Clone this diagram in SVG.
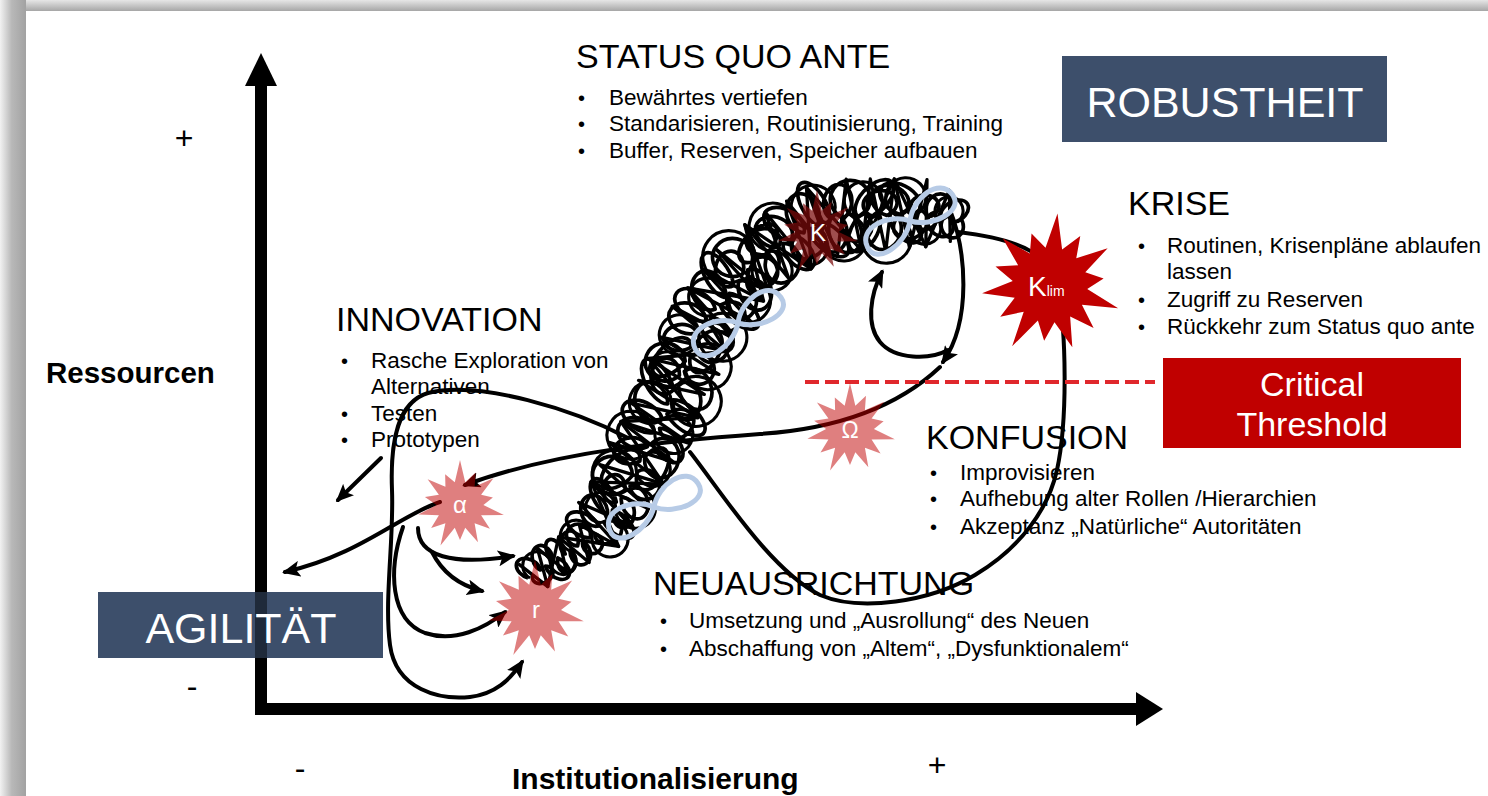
<svg xmlns="http://www.w3.org/2000/svg" width="1488" height="796" viewBox="0 0 1488 796">
<defs>
<linearGradient id="gl" x1="0" y1="0" x2="1" y2="0"><stop offset="0" stop-color="#f2f2f2"/><stop offset="0.45" stop-color="#b8b8b8"/><stop offset="1" stop-color="#a2a2a2"/></linearGradient>
<linearGradient id="gt" x1="0" y1="0" x2="0" y2="1"><stop offset="0" stop-color="#e6e6e6"/><stop offset="1" stop-color="#a6a6a6"/></linearGradient>
<marker id="ah" viewBox="0 0 18 16" refX="15" refY="8" markerWidth="18" markerHeight="16" markerUnits="userSpaceOnUse" orient="auto"><path d="M0,0 L18,8 L0,16 L4,8 Z" fill="#000"/></marker>
<path id="star" d="M0,-100 L11.6,-50.7 L34.7,-72.1 L32.4,-40.7 L74.3,-59.2 L46.9,-22.6 L73.1,-16.7 L52,0 L97.5,22.3 L46.9,22.6 L66.5,53 L32.4,40.7 L39.9,82.9 L11.6,50.7 L0,78 L-11.6,50.7 L-43.4,90.1 L-32.4,40.7 L-64.1,51.1 L-46.9,22.6 L-92.6,21.1 L-52,0 L-78,-17.8 L-46.9,-22.6 L-71.9,-57.4 L-32.4,-40.7 L-33,-68.5 L-11.6,-50.7 Z"/>
<path id="eight" d="M0,0 C14,-18 48,-22 50,0 C52,20 16,18 0,0 C-14,-18 -48,-22 -50,0 C-52,20 -16,18 0,0 Z"/>
<style>
.t{font-family:"Liberation Sans",Arial,sans-serif;fill:#000}
.h{font-size:34px}
.b{font-size:22.5px}
.d{font-size:20px}
.bold{font-weight:bold;font-size:30px}
.pm{font-size:32px;text-anchor:middle}
.w{fill:#fff}
.mid{text-anchor:middle}
.box{fill:#3d4f6b}
.ln{fill:none;stroke:#000;stroke-width:4;stroke-linecap:round;stroke-linejoin:round}
.arr{marker-end:url(#ah)}
.coil{fill:none;stroke:#000;stroke-width:3.7;stroke-linejoin:round}
.coil2{fill:none;stroke:#000;stroke-width:3.1;stroke-linejoin:round}
.zz{fill:none;stroke:#000;stroke-width:3.3;stroke-linejoin:round;stroke-linecap:round}
.inf{fill:none;stroke:#b7cbe6;stroke-width:5;stroke-linejoin:round}
.soft{fill:#c00000;opacity:.5}
</style>
</defs>

<g id="frame">
<rect width="1488" height="796" fill="#f4f4f4"/>
<rect x="0" y="0" width="1488" height="11" fill="url(#gt)"/>
<rect x="0" y="0" width="26" height="796" fill="url(#gl)"/>
<rect x="26" y="11" width="1462" height="785" fill="#fff"/>
</g>

<g id="axes">
<path d="M261,715 V82 M255,709 H1138" fill="none" stroke="#000" stroke-width="12"/>
<polygon points="245,86 261,53 277,86"/>
<polygon points="1136,692 1163,709 1136,726"/>
<text class="t pm" x="184" y="149">+</text>
<text class="t pm" x="192" y="697">-</text>
<text class="t pm" x="300" y="779">-</text>
<text class="t pm" x="937" y="776">+</text>
<text class="t bold" x="46" y="383" style="font-size:29.5px">Ressourcen</text>
<text class="t bold" x="512" y="789">Institutionalisierung</text>
</g>

<g id="status-quo-ante">
<text class="t h" x="576" y="68">STATUS QUO ANTE</text>
<text class="t d" x="578" y="105">•</text><text class="t b" x="609" y="105">Bewährtes vertiefen</text>
<text class="t d" x="578" y="131">•</text><text class="t b" x="609" y="131">Standarisieren, Routinisierung, Training</text>
<text class="t d" x="578" y="158">•</text><text class="t b" x="609" y="158">Buffer, Reserven, Speicher aufbauen</text>
</g>

<g id="krise">
<text class="t h" x="1128" y="215">KRISE</text>
<text class="t d" x="1138" y="253">•</text><text class="t b" x="1167" y="253">Routinen, Krisenpläne ablaufen</text>
<text class="t b" x="1167" y="279">lassen</text>
<text class="t d" x="1138" y="307">•</text><text class="t b" x="1167" y="307">Zugriff zu Reserven</text>
<text class="t d" x="1138" y="334">•</text><text class="t b" x="1167" y="334">Rückkehr zum Status quo ante</text>
</g>

<g id="innovation">
<text class="t h" x="336" y="331">INNOVATION</text>
<text class="t d" x="341" y="368">•</text><text class="t b" x="371" y="368">Rasche Exploration von</text>
<text class="t b" x="371" y="394">Alternativen</text>
<text class="t d" x="341" y="421">•</text><text class="t b" x="371" y="421">Testen</text>
<text class="t d" x="341" y="447">•</text><text class="t b" x="371" y="447">Prototypen</text>
</g>

<g id="konfusion">
<text class="t h" x="926" y="449">KONFUSION</text>
<text class="t d" x="930" y="480">•</text><text class="t b" x="960" y="480">Improvisieren</text>
<text class="t d" x="930" y="506">•</text><text class="t b" x="960" y="506">Aufhebung alter Rollen /Hierarchien</text>
<text class="t d" x="930" y="534">•</text><text class="t b" x="960" y="534">Akzeptanz „Natürliche“ Autoritäten</text>
</g>

<g id="neuausrichtung">
<text class="t h" x="653" y="595">NEUAUSRICHTUNG</text>
<text class="t d" x="660" y="628">•</text><text class="t b" x="689" y="628">Umsetzung und „Ausrollung“ des Neuen</text>
<text class="t d" x="660" y="656">•</text><text class="t b" x="689" y="656">Abschaffung von „Altem“, „Dysfunktionalem“</text>
</g>

<g id="connectors">
<path class="coil" d="M528,578
a13,9 30 1 1 12.4,-8 a10,13 -20 1 1 12.4,-8 a15,8 60 1 1 12.4,-8 a9,12 10 1 1 12.4,-8 a12,11 0 1 1 12.4,-8
a18,11 30 1 1 8.75,-12 a13,16 -20 1 1 8.75,-12 a20,10 60 1 1 8.75,-12 a11,14 10 1 1 8.75,-12
a20,19 0 1 1 7.4,-14.4 a24,13 -45 1 1 7.4,-14.4 a13,17 80 1 1 7.4,-14.4 a19,15 20 1 1 7.4,-14.4 a22,14 30 1 1 7.4,-14.4
a16,20 -20 1 1 5.8,-14.2 a25,12 60 1 1 5.8,-14.2 a14,18 10 1 1 5.8,-14.2 a20,19 0 1 1 5.8,-14.2 a24,13 -45 1 1 5.8,-14.2 a13,17 80 1 1 5.8,-14.2
a19,15 20 1 1 9.2,-11.8 a22,14 30 1 1 9.2,-11.8 a16,20 -20 1 1 9.2,-11.8 a25,12 60 1 1 9.2,-11.8 a14,18 10 1 1 9.2,-11.8 a20,19 0 1 1 9.2,-11.8
a24,13 -45 1 1 13,-7.3 a13,17 80 1 1 13,-7.3 a19,15 20 1 1 13,-7.3 a22,14 30 1 1 13,-7.3 a16,20 -20 1 1 13,-7.3 a25,12 60 1 1 13,-7.3
a14,18 10 1 1 14.2,-0.7 a20,19 0 1 1 14.2,-0.7 a24,13 -45 1 1 14.2,-0.7 a13,17 80 1 1 14.2,-0.7 a19,15 20 1 1 14.2,-0.7 a22,14 30 1 1 14.2,-0.7
a14,11 0 1 1 13.3,2.7 a12,14 40 1 1 13.3,2.7 a15,10 -30 1 1 13.3,2.7"/>
<path class="coil" d="M533,574
a11,8 -30 1 0 12.4,-8 a14,9 40 1 0 12.4,-8 a9,12 0 1 0 12.4,-8 a12,10 70 1 0 12.4,-8 a10,10 0 1 0 12.4,-8
a14,11 -30 1 0 8.75,-12 a19,10 40 1 0 8.75,-12 a11,15 0 1 0 8.75,-12 a17,13 70 1 0 8.75,-12
a15,15 0 1 0 7.4,-14.4 a23,13 -60 1 0 7.4,-14.4 a17,20 15 1 0 7.4,-14.4 a20,12 50 1 0 7.4,-14.4 a18,14 -30 1 0 7.4,-14.4
a24,12 40 1 0 5.8,-14.2 a14,19 0 1 0 5.8,-14.2 a21,16 70 1 0 5.8,-14.2 a15,15 0 1 0 5.8,-14.2 a23,13 -60 1 0 5.8,-14.2 a17,20 15 1 0 5.8,-14.2
a20,12 50 1 0 9.2,-11.8 a18,14 -30 1 0 9.2,-11.8 a24,12 40 1 0 9.2,-11.8 a14,19 0 1 0 9.2,-11.8 a21,16 70 1 0 9.2,-11.8 a15,15 0 1 0 9.2,-11.8
a23,13 -60 1 0 13,-7.3 a17,20 15 1 0 13,-7.3 a20,12 50 1 0 13,-7.3 a18,14 -30 1 0 13,-7.3 a24,12 40 1 0 13,-7.3 a14,19 0 1 0 13,-7.3
a21,16 70 1 0 14.2,-0.7 a15,15 0 1 0 14.2,-0.7 a23,13 -60 1 0 14.2,-0.7 a17,20 15 1 0 14.2,-0.7 a20,12 50 1 0 14.2,-0.7 a18,14 -30 1 0 14.2,-0.7
a12,10 0 1 0 13.3,2.7 a14,11 40 1 0 13.3,2.7 a11,12 -20 1 0 13.3,2.7"/>
<path class="coil2" d="M530,578
a14,14 0 1 1 20.7,-13.3 a13,13 0 1 0 20.7,-13.3 a16,16 0 1 1 20.7,-13.3
a18,18 0 1 0 11.7,-16 a15,15 0 1 1 11.7,-16 a20,20 0 1 0 11.7,-16
a22,22 0 1 1 9.25,-18 a17,17 0 1 0 9.25,-18 a24,24 0 1 1 9.25,-18 a19,19 0 1 0 9.25,-18
a21,21 0 1 1 7,-17 a25,25 0 1 0 7,-17 a18,18 0 1 1 7,-17 a23,23 0 1 0 7,-17 a20,20 0 1 1 7,-17
a24,24 0 1 0 13.75,-17.75 a19,19 0 1 1 13.75,-17.75 a22,22 0 1 0 13.75,-17.75 a26,26 0 1 1 13.75,-17.75
a20,20 0 1 0 19.5,-11 a24,24 0 1 1 19.5,-11 a18,18 0 1 0 19.5,-11 a22,22 0 1 1 19.5,-11
a23,23 0 1 0 21.25,-1 a19,19 0 1 1 21.25,-1 a25,25 0 1 0 21.25,-1 a20,20 0 1 1 21.25,-1
a16,16 0 1 0 20,4 a14,14 0 1 1 20,4"/>
<path class="zz" d="M519.4,564.6 L547.8,586.6 L537.4,548.2 L566.3,571.2 L558.6,537 L589.2,562.4 L579.3,524.8 L618.6,546.4 L578.7,502.5 L629.5,524.7 L591.2,481.8 L648.5,508.7 L599.8,464.7 L663.9,484.2 L609,442.4 L673.2,461.9 L620.9,421.5 L689.4,443.4 L631.3,403.2 L697.8,417.7 L638.6,380.3 L704.3,394.3 L648.6,358.5 L718.9,374.4 L659.7,336.9 L726.3,351.4 L672.2,306.3 L733.3,338.4 L687.7,287.9 L751.2,321.8 L703.1,269.5 L763.5,301 L716.2,249.3 L768.7,291.6 L744.8,224.7 L788.6,278.1 L765.2,212.1 L811,268.9 L786.6,201.1 L830.9,255.3 L806.5,187.7 L837.7,253.7 L846.2,179.2 L861.6,250.6 L870.3,179 L885.7,251.5 L894.3,178.9 L909.5,247.3 L927,179.7 L925.8,246.7 L949.3,190.3 L950.3,241.4"/>
<path class="zz" d="M547.8,586.6 L558.6,537 L618.6,546.4 L591.2,481.8 L663.9,484.2 L620.9,421.5 L697.8,417.7 L648.6,358.5 L726.3,351.4 L687.7,287.9 L763.5,301 L744.8,224.7 L811,268.9 L806.5,187.7 L861.6,250.6 L894.3,178.9 L925.8,246.7"/>
<path class="ln" d="M690,452 C720,490 770,570 820,595 C860,612 930,602 975,575 C1020,548 1048,510 1057,470 C1068,420 1066,330 1058,290 C1050,255 1025,240 958,232"/>
<path class="ln arr" d="M950,210 C966,250 972,320 943,362"/>
<path class="ln arr" d="M940,367 C905,400 850,428 760,434 C680,440 560,450 465,485"/>
<path class="ln arr" d="M948,350 C930,360 895,360 880,342 C866,325 870,295 882,272"/>
<path class="ln arr" d="M628,438 C575,410 480,380 428,393 C398,402 390,440 392,490 C394,540 384,600 390,645 C396,690 440,700 470,697 C495,694 510,680 522,662"/>
<path class="ln arr" d="M440,502 C400,515 360,555 285,572"/>
<path class="ln arr" d="M381,458 L338,500"/>
<path class="ln arr" d="M418,528 C418,556 452,566 513,556"/>
<path class="ln arr" d="M432,552 C442,572 458,585 482,591"/>
<path class="ln arr" d="M403,527 C388,570 390,620 425,633 C455,643 485,628 505,612"/>
<use href="#eight" class="inf" transform="translate(910,221) rotate(-32)"/>
<use href="#eight" class="inf" transform="translate(738,323) rotate(-31)"/>
<use href="#eight" class="inf" transform="translate(654,507) rotate(-28)"/>
<path d="M805,382 H1155" fill="none" stroke="#e0282c" stroke-width="4" stroke-dasharray="14 6"/>
</g>

<g id="star-K">
<use href="#star" transform="translate(817,232) scale(0.42)" fill="#7a0a0a" opacity="0.72"/>
<text class="t w mid" x="818" y="241" style="font-size:24px">K</text>
</g>
<g id="star-Klim">
<use href="#star" transform="translate(1050,285) rotate(6) scale(0.72)" fill="#c00000"/>
<text class="t w" x="1028" y="296" style="font-size:28px">K<tspan style="font-size:14px">lim</tspan></text>
</g>
<g id="star-omega">
<use href="#star" class="soft" transform="translate(850,429) scale(0.46)"/>
<text class="t w mid" x="850" y="438" style="font-size:23px">Ω</text>
</g>
<g id="star-alpha">
<use href="#star" class="soft" transform="translate(460,505) scale(0.45)"/>
<text class="t w mid" x="460" y="513" style="font-size:24px">α</text>
</g>
<g id="star-r">
<use href="#star" class="soft" transform="translate(535,610) scale(0.5)"/>
<text class="t w mid" x="536" y="618" style="font-size:24px">r</text>
</g>

<g id="robustheit">
<rect class="box" x="1062" y="56" width="325" height="86"/>
<text class="t w mid" x="1225" y="117" style="font-size:43px">ROBUSTHEIT</text>
</g>
<g id="critical-threshold">
<rect x="1163" y="358" width="298" height="90" fill="#c00000"/>
<text class="t w mid h" x="1312" y="396">Critical</text>
<text class="t w mid h" x="1312" y="436">Threshold</text>
</g>
<g id="agilitaet">
<rect class="box" x="98" y="592" width="285" height="66"/>
<rect x="255" y="592" width="12" height="66" fill="#1f2a3a"/>
<text class="t w mid" x="241" y="643" style="font-size:43px">AGILITÄT</text>
</g>
</svg>
